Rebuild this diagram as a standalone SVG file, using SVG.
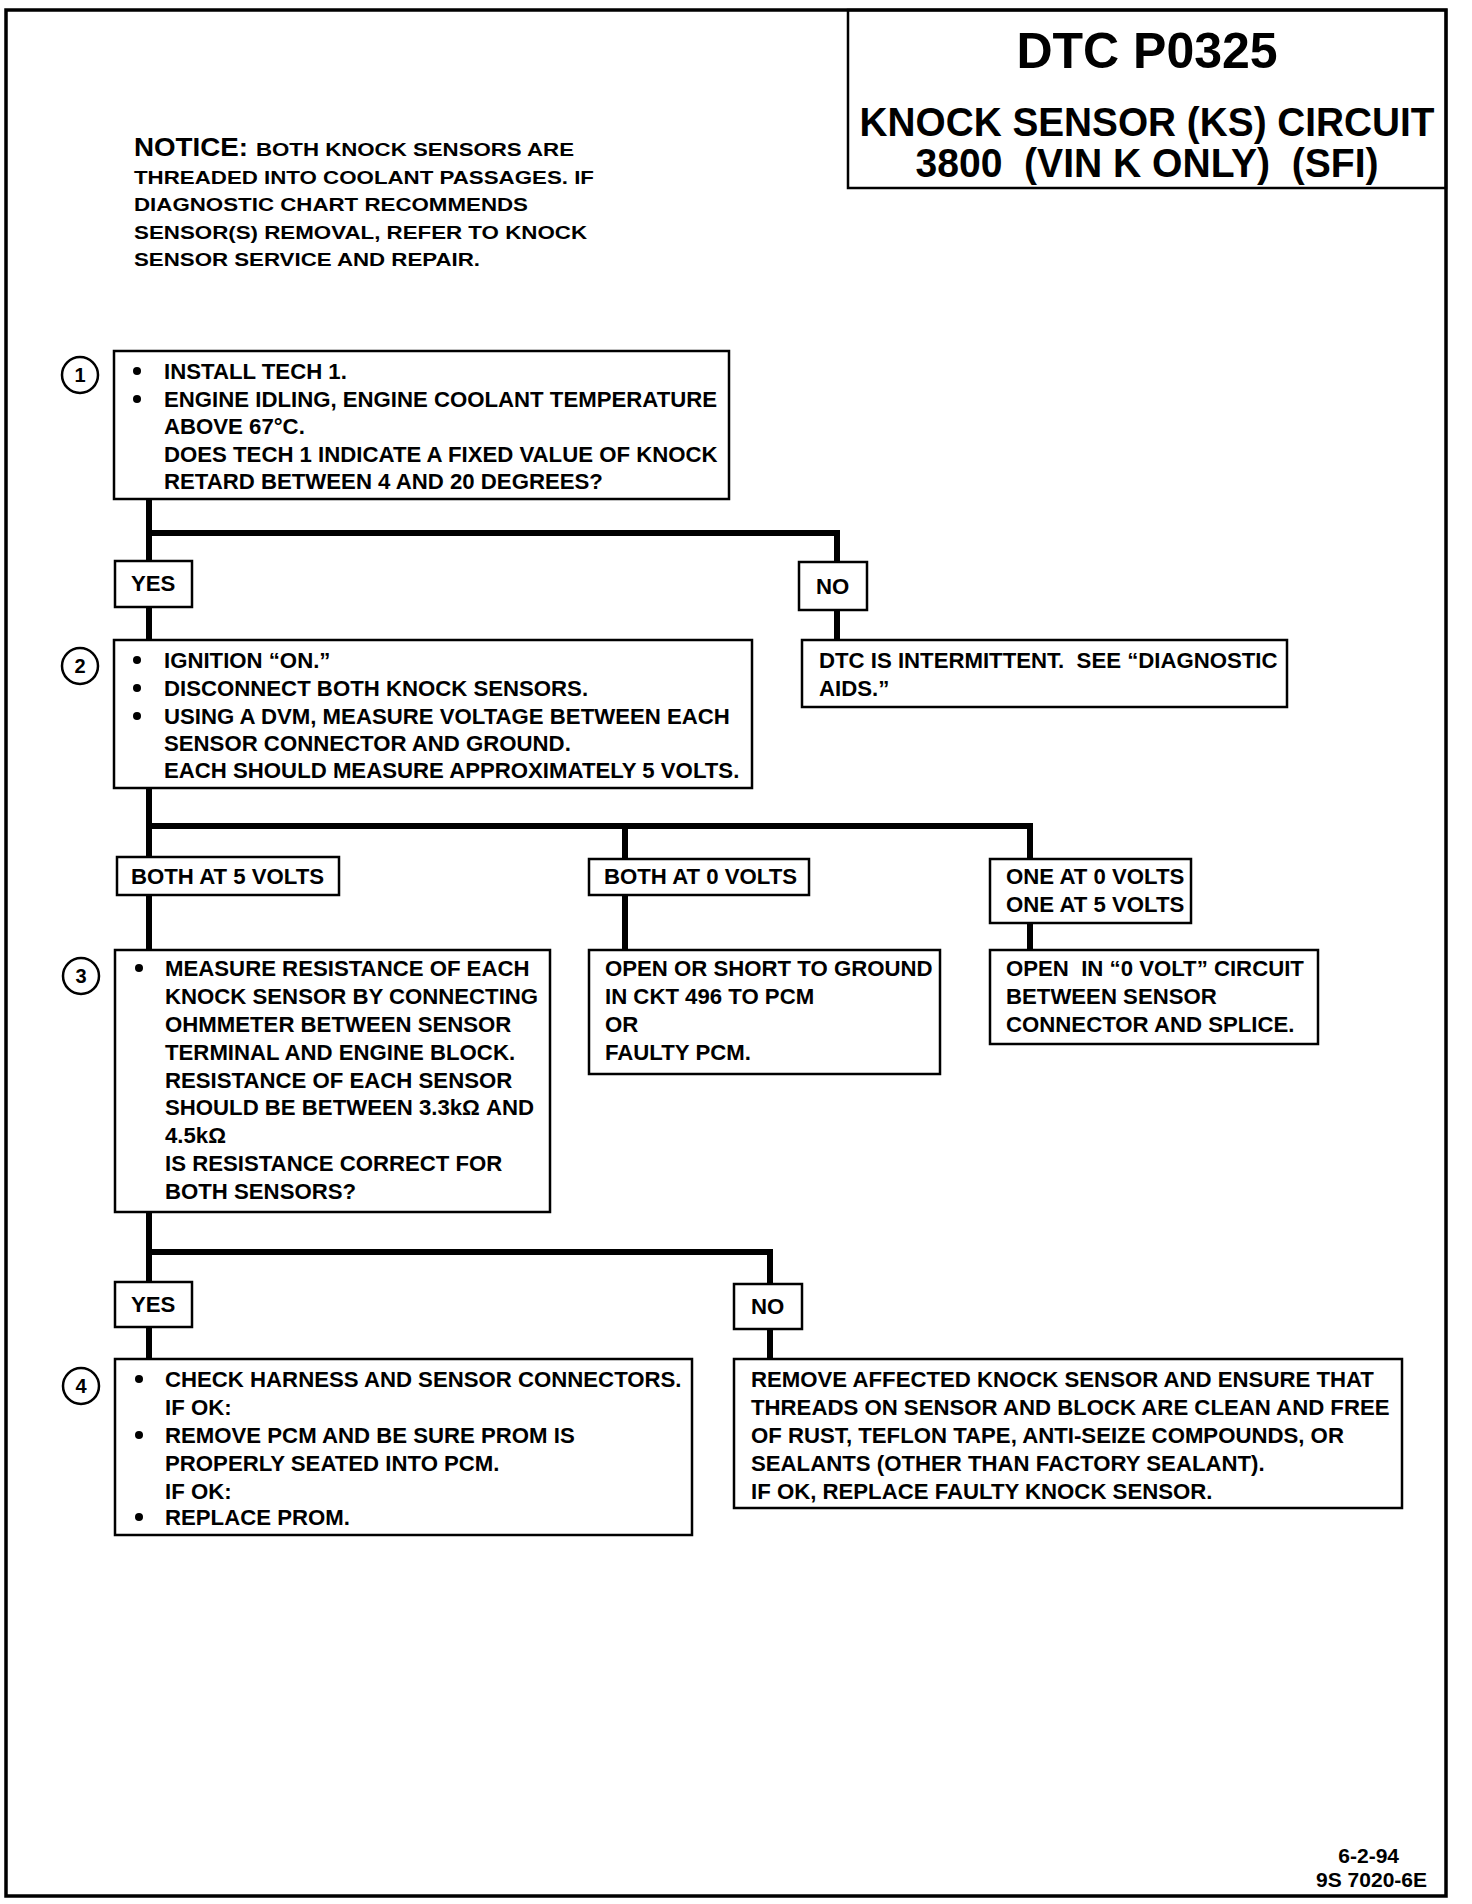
<svg xmlns="http://www.w3.org/2000/svg" width="1472" height="1904" viewBox="0 0 1472 1904">
<style>
.bg{fill:#fff}
.frame{fill:none;stroke:#000;stroke-width:3.5}
.box{fill:#fff;stroke:#000;stroke-width:2.5}
.wire{fill:none;stroke:#000;stroke-width:6;stroke-linejoin:miter}
.t{font-family:"Liberation Sans",Arial,Helvetica,sans-serif;font-weight:bold;font-size:22.2px;fill:#000}
.nt{font-family:"Liberation Sans",Arial,Helvetica,sans-serif;font-weight:bold;font-size:19px;fill:#000}
.nh{font-family:"Liberation Sans",Arial,Helvetica,sans-serif;font-weight:bold;font-size:26px;fill:#000}
.title{font-family:"Liberation Sans",Arial,Helvetica,sans-serif;font-weight:bold;fill:#000;text-anchor:middle}
.num{font-family:"Liberation Sans",Arial,Helvetica,sans-serif;font-weight:bold;font-size:20px;text-anchor:middle;fill:#000}
.circ{fill:#fff;stroke:#000;stroke-width:2.5}
.dot{fill:#000}
</style>
<rect class="bg" x="0" y="0" width="1472" height="1904"/>
<rect class="frame" x="6" y="10" width="1440" height="1886"/>

<g id="title">
<rect class="frame" x="848" y="10" width="598" height="178" style="stroke-width:2.5"/>
<text class="title" x="1147" y="68" font-size="50">DTC P0325</text>
<text class="title" x="1147" y="136" font-size="40" textLength="575" lengthAdjust="spacingAndGlyphs">KNOCK SENSOR (KS) CIRCUIT</text>
<text class="title" x="1147" y="177" font-size="40" textLength="463" lengthAdjust="spacingAndGlyphs" xml:space="preserve">3800  (VIN K ONLY)  (SFI)</text>
</g>

<g id="notice">
<text class="nh" x="134" y="156" textLength="114" lengthAdjust="spacingAndGlyphs">NOTICE:</text>
<text class="nt" x="256" y="156" textLength="318" lengthAdjust="spacingAndGlyphs">BOTH KNOCK SENSORS ARE</text>
<text class="nt" x="134" y="184" textLength="460" lengthAdjust="spacingAndGlyphs">THREADED INTO COOLANT PASSAGES. IF</text>
<text class="nt" x="134" y="211" textLength="394" lengthAdjust="spacingAndGlyphs">DIAGNOSTIC CHART RECOMMENDS</text>
<text class="nt" x="134" y="239" textLength="453" lengthAdjust="spacingAndGlyphs">SENSOR(S) REMOVAL, REFER TO KNOCK</text>
<text class="nt" x="134" y="266" textLength="346" lengthAdjust="spacingAndGlyphs">SENSOR SERVICE AND REPAIR.</text>
</g>

<g id="connectors">
<path class="wire" d="M149 499 V561 M149 607 V640 M149 533 H837 V562 M837 610 V640"/>
<path class="wire" d="M149 788 V857 M149 826 H1030 V859 M625 826 V859 M149 895 V950 M625 895 V950 M1030 923 V950"/>
<path class="wire" d="M149 1212 V1282 M149 1252 H770 V1284 M149 1327 V1359 M770 1329 V1359"/>
</g>

<g id="step1">
<circle class="circ" cx="80" cy="375" r="18"/>
<text class="num" x="80" y="382">1</text>
<rect class="box" x="114" y="351" width="615" height="148"/>
<circle class="dot" cx="137" cy="371" r="4"/>
<circle class="dot" cx="137" cy="399" r="4"/>
<text class="t" x="164" y="379">INSTALL TECH 1.</text>
<text class="t" x="164" y="407">ENGINE IDLING, ENGINE COOLANT TEMPERATURE</text>
<text class="t" x="164" y="434">ABOVE 67°C.</text>
<text class="t" x="164" y="462">DOES TECH 1 INDICATE A FIXED VALUE OF KNOCK</text>
<text class="t" x="164" y="489">RETARD BETWEEN 4 AND 20 DEGREES?</text>
</g>

<g id="yes1">
<rect class="box" x="115" y="561" width="77" height="46"/>
<text class="t" x="131" y="591">YES</text>
</g>

<g id="no1">
<rect class="box" x="799" y="562" width="68" height="48"/>
<text class="t" x="816" y="594">NO</text>
</g>

<g id="intermittent">
<rect class="box" x="802" y="640" width="485" height="67"/>
<text class="t" x="819" y="668" xml:space="preserve">DTC IS INTERMITTENT.  SEE “DIAGNOSTIC</text>
<text class="t" x="819" y="696">AIDS.”</text>
</g>

<g id="step2">
<circle class="circ" cx="80" cy="666" r="18"/>
<text class="num" x="80" y="673">2</text>
<rect class="box" x="114" y="640" width="638" height="148"/>
<circle class="dot" cx="137" cy="660" r="4"/>
<circle class="dot" cx="137" cy="688" r="4"/>
<circle class="dot" cx="137" cy="716" r="4"/>
<text class="t" x="164" y="668">IGNITION “ON.”</text>
<text class="t" x="164" y="696">DISCONNECT BOTH KNOCK SENSORS.</text>
<text class="t" x="164" y="724">USING A DVM, MEASURE VOLTAGE BETWEEN EACH</text>
<text class="t" x="164" y="751">SENSOR CONNECTOR AND GROUND.</text>
<text class="t" x="164" y="778">EACH SHOULD MEASURE APPROXIMATELY 5 VOLTS.</text>
</g>

<g id="both5">
<rect class="box" x="117" y="857" width="222" height="38"/>
<text class="t" x="131" y="884">BOTH AT 5 VOLTS</text>
</g>

<g id="both0">
<rect class="box" x="589" y="859" width="220" height="36"/>
<text class="t" x="604" y="884">BOTH AT 0 VOLTS</text>
</g>

<g id="one0one5">
<rect class="box" x="990" y="859" width="201" height="64"/>
<text class="t" x="1006" y="884">ONE AT 0 VOLTS</text>
<text class="t" x="1006" y="912">ONE AT 5 VOLTS</text>
</g>

<g id="step3">
<circle class="circ" cx="81" cy="976" r="18"/>
<text class="num" x="81" y="983">3</text>
<rect class="box" x="115" y="950" width="435" height="262"/>
<circle class="dot" cx="139" cy="968" r="4"/>
<text class="t" x="165" y="976">MEASURE RESISTANCE OF EACH</text>
<text class="t" x="165" y="1004">KNOCK SENSOR BY CONNECTING</text>
<text class="t" x="165" y="1032">OHMMETER BETWEEN SENSOR</text>
<text class="t" x="165" y="1060">TERMINAL AND ENGINE BLOCK.</text>
<text class="t" x="165" y="1088">RESISTANCE OF EACH SENSOR</text>
<text class="t" x="165" y="1115">SHOULD BE BETWEEN 3.3kΩ AND</text>
<text class="t" x="165" y="1143">4.5kΩ</text>
<text class="t" x="165" y="1171">IS RESISTANCE CORRECT FOR</text>
<text class="t" x="165" y="1199">BOTH SENSORS?</text>
</g>

<g id="openshort">
<rect class="box" x="589" y="950" width="351" height="124"/>
<text class="t" x="605" y="976">OPEN OR SHORT TO GROUND</text>
<text class="t" x="605" y="1004">IN CKT 496 TO PCM</text>
<text class="t" x="605" y="1032">OR</text>
<text class="t" x="605" y="1060">FAULTY PCM.</text>
</g>

<g id="open0volt">
<rect class="box" x="990" y="950" width="328" height="94"/>
<text class="t" x="1006" y="976" xml:space="preserve">OPEN  IN “0 VOLT” CIRCUIT</text>
<text class="t" x="1006" y="1004">BETWEEN SENSOR</text>
<text class="t" x="1006" y="1032">CONNECTOR AND SPLICE.</text>
</g>

<g id="yes2">
<rect class="box" x="115" y="1282" width="77" height="45"/>
<text class="t" x="131" y="1312">YES</text>
</g>

<g id="no2">
<rect class="box" x="734" y="1284" width="68" height="45"/>
<text class="t" x="751" y="1314">NO</text>
</g>

<g id="step4">
<circle class="circ" cx="81" cy="1386" r="18"/>
<text class="num" x="81" y="1393">4</text>
<rect class="box" x="115" y="1359" width="577" height="176"/>
<circle class="dot" cx="139" cy="1379" r="4"/>
<circle class="dot" cx="139" cy="1435" r="4"/>
<circle class="dot" cx="139" cy="1517" r="4"/>
<text class="t" x="165" y="1387">CHECK HARNESS AND SENSOR CONNECTORS.</text>
<text class="t" x="165" y="1415">IF OK:</text>
<text class="t" x="165" y="1443">REMOVE PCM AND BE SURE PROM IS</text>
<text class="t" x="165" y="1471">PROPERLY SEATED INTO PCM.</text>
<text class="t" x="165" y="1499">IF OK:</text>
<text class="t" x="165" y="1525">REPLACE PROM.</text>
</g>

<g id="removesensor">
<rect class="box" x="734" y="1359" width="668" height="149"/>
<text class="t" x="751" y="1387">REMOVE AFFECTED KNOCK SENSOR AND ENSURE THAT</text>
<text class="t" x="751" y="1415">THREADS ON SENSOR AND BLOCK ARE CLEAN AND FREE</text>
<text class="t" x="751" y="1443">OF RUST, TEFLON TAPE, ANTI-SEIZE COMPOUNDS, OR</text>
<text class="t" x="751" y="1471">SEALANTS (OTHER THAN FACTORY SEALANT).</text>
<text class="t" x="751" y="1499">IF OK, REPLACE FAULTY KNOCK SENSOR.</text>
</g>

<g id="footer">
<text class="t" x="1399" y="1863" style="font-size:21px;text-anchor:end">6-2-94</text>
<text class="t" x="1427" y="1887" style="font-size:21px;text-anchor:end">9S 7020-6E</text>
</g>
</svg>
